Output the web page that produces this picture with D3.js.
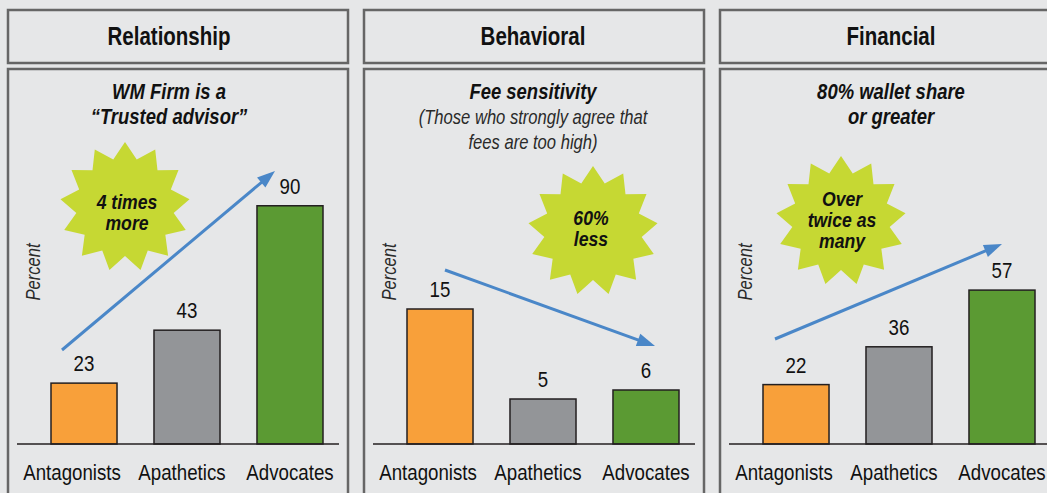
<!DOCTYPE html>
<html>
<head>
<meta charset="utf-8">
<script src="https://cdn.jsdelivr.net/npm/d3@7"></script>
<style>
  html, body { margin: 0; padding: 0; background: #e6e7e8; }
  svg { display: block; }
</style>
</head>
<body>
<svg id="chart" width="1047" height="493"></svg>
<script>
// ---------- data ----------
const panelTitles = ["Relationship", "Behavioral", "Financial"];
const categories = ["Antagonists", "Apathetics", "Advocates"];
const relationshipValues = [23, 43, 90];
const behavioralValues = [15, 5, 6];
const financialValues = [22, 36, 57];
const subtitleBold = [["WM Firm is a", "\u201CTrusted advisor\u201D"], ["Fee sensitivity"], ["80% wallet share", "or greater"]];
const subtitleLight = [[], ["(Those who strongly agree that", "fees are too high)"], []];
const starTexts = [["4 times", "more"], ["60%", "less"], ["Over", "twice as", "many"]];
const yAxisLabel = "Percent";
const panelValues = [relationshipValues, behavioralValues, financialValues];
const yMaxes = [102, 30, 100];

// ---------- layout / style ----------
const colors = ["#f8a03a", "#939598", "#5b9a33"];
const panelLeft = [8, 364, 720];
const panelW = 340;
const textCx = [161, 169, 171];
const starCenter = [[117, 207], [229, 231], [121, 221]];
const starTextCx = [119, 227, 122];
const starTextY = [[209, 230], [225, 246], [206, 227, 248]];
const arrows = [[[54, 350], [267, 171]], [[81, 270], [291, 346]], [[55, 339], [282, 244]]];
const labelDx = [-12, -5, 0];
const baseY = 444, topY = 174;
const FONT = "'Liberation Sans', Arial, sans-serif";

const svg = d3.select("#chart");
svg.append("rect").attr("width", 1047).attr("height", 493).attr("fill", "#e6e7e8");

function txt(g, x, y, s, o) {
  o = o || {};
  const sx = o.sx || 0.84;
  return g.append("text")
    .attr("transform", `translate(${x},${y})${o.rotate ? ` rotate(${o.rotate})` : ""} scale(${sx},1)`)
    .attr("text-anchor", o.anchor || "middle")
    .attr("font-family", FONT)
    .attr("font-size", o.size || 22)
    .attr("font-weight", o.weight || "normal")
    .attr("font-style", o.style || "normal")
    .attr("fill", o.fill || "#111")
    .text(s);
}

function starPath(cx, cy, R, r, n) {
  const pts = [];
  for (let i = 0; i < 2 * n; i++) {
    const a = -Math.PI / 2 + i * Math.PI / n;
    const rr = i % 2 === 0 ? R : r;
    pts.push([cx + rr * Math.cos(a), cy + rr * Math.sin(a)]);
  }
  return d3.line()(pts) + "Z";
}

panelTitles.forEach((title, p) => {
  const g = svg.append("g").attr("transform", `translate(${panelLeft[p]},0)`);
  // header box
  g.append("rect").attr("x", 0).attr("y", 10).attr("width", panelW).attr("height", 53)
    .attr("fill", "#e6e7e8").attr("stroke", "#666").attr("stroke-width", 2.5);
  txt(g, textCx[p], 45, title, { size: 25, weight: "bold", sx: 0.82 });
  // content box
  g.append("rect").attr("x", 0).attr("y", 69).attr("width", panelW).attr("height", 440)
    .attr("fill", "#e6e7e8").attr("stroke", "#666").attr("stroke-width", 2.5);

  // subtitles
  let yy = 99;
  subtitleBold[p].forEach(line => { txt(g, textCx[p], yy, line, { size: 22, weight: "bold", style: "italic", sx: 0.84 }); yy += 25; });
  subtitleLight[p].forEach(line => { txt(g, textCx[p], yy, line, { size: 20, style: "italic", sx: 0.83, fill: "#2a2a2a" }); yy += 25; });

  // scales
  const x = d3.scaleBand().domain(categories).range([43, 315]).paddingInner(0.359).paddingOuter(0);
  const y = d3.scaleLinear().domain([0, yMaxes[p]]).range([baseY, topY]);
  const vals = panelValues[p];

  // star
  g.append("path").attr("d", starPath(starCenter[p][0], starCenter[p][1], 65, 49, 13))
    .attr("fill", "#c6d833");
  starTexts[p].forEach((line, i) => txt(g, starTextCx[p], starTextY[p][i], line, { size: 21, weight: "bold", style: "italic", sx: 0.84 }));

  // y axis label
  txt(g, 32, 272, yAxisLabel, { size: 20, style: "italic", rotate: -90, sx: 0.83, fill: "#2a2a2a" });

  // bars
  g.selectAll("rect.bar").data(categories).join("rect").attr("class", "bar")
    .attr("x", d => x(d)).attr("width", x.bandwidth())
    .attr("y", (d, i) => y(vals[i])).attr("height", (d, i) => y(0) - y(vals[i]))
    .attr("fill", (d, i) => colors[i]).attr("stroke", "#231f20").attr("stroke-width", 1.5);

  // value labels
  categories.forEach((c, i) => txt(g, x(c) + x.bandwidth() / 2, y(vals[i]) - 12, String(vals[i]), { size: 22, sx: 0.85 }));

  // baseline
  g.append("line").attr("x1", 9).attr("x2", 331).attr("y1", baseY).attr("y2", baseY)
    .attr("stroke", "#231f20").attr("stroke-width", 1.5);

  // category labels
  categories.forEach((c, i) => txt(g, x(c) + x.bandwidth() / 2 + labelDx[i], 480, c, { size: 22, sx: 0.85 }));

  // arrow
  const [[x1, y1], [x2, y2]] = arrows[p];
  const ang = Math.atan2(y2 - y1, x2 - x1);
  const hl = 18, hw = 6.5;
  const bx = x2 - hl * Math.cos(ang), by = y2 - hl * Math.sin(ang);
  g.append("line").attr("x1", x1).attr("y1", y1).attr("x2", bx + 2 * Math.cos(ang)).attr("y2", by + 2 * Math.sin(ang))
    .attr("stroke", "#4a87c8").attr("stroke-width", 3);
  g.append("path").attr("d", d3.line()([[x2, y2], [bx - hw * Math.sin(ang), by + hw * Math.cos(ang)], [bx + hw * Math.sin(ang), by - hw * Math.cos(ang)]]) + "Z")
    .attr("fill", "#4a87c8");
});
</script>
</body>
</html>
